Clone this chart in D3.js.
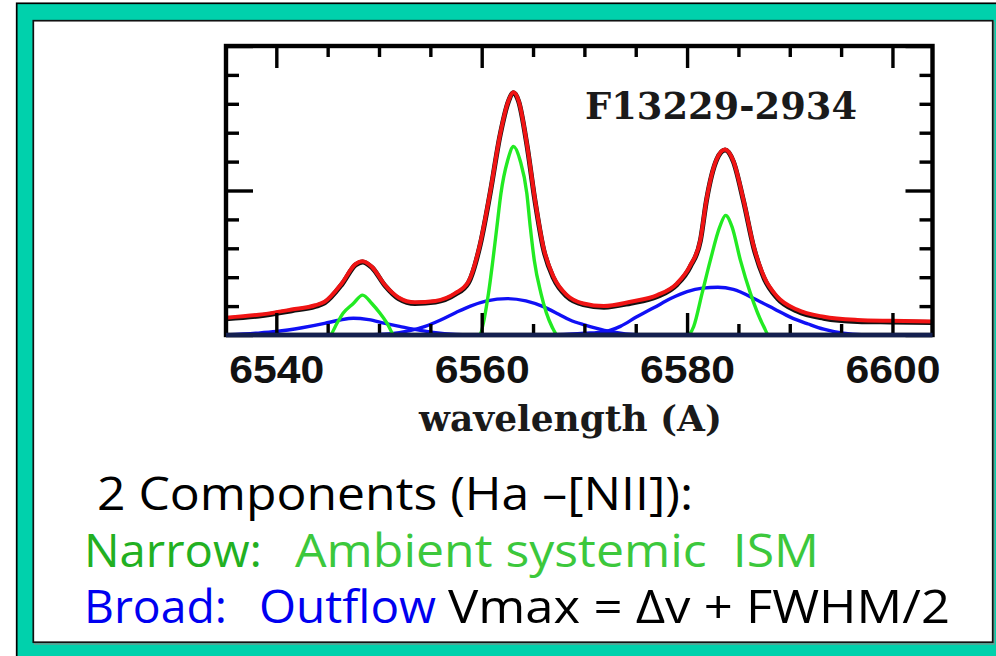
<!DOCTYPE html>
<html><head><meta charset="utf-8">
<script src="https://cdn.jsdelivr.net/npm/d3@7"></script>
<style>body{margin:0;background:#fff;}</style>
</head><body>
<svg id="chart" width="996" height="656"></svg>
<script>
// ---------- data ----------
const plotLabel = "F13229-2934";
const xAxisTitle = "wavelength (A)";
const xMajorTicks = [6540, 6560, 6580, 6600];
const xMinorTicks = [6545, 6550, 6555, 6565, 6570, 6575, 6585, 6590, 6595];
const yMajorTicks = [0, 0.5, 1];
const yMinorTicks = [0.1, 0.2, 0.3, 0.4, 0.6, 0.7, 0.8, 0.9];

// total fit (red)
const fitWave = [6535.1, 6538.3, 6541.5, 6543.8, 6544.7, 6546.4, 6547.7, 6548.4, 6549.3, 6550.6, 6551.9, 6553.5, 6555.5, 6557.4, 6558.7, 6559.85, 6560.8, 6561.8, 6562.6, 6563.1, 6563.6, 6564.4, 6565.2, 6566.0, 6567.0, 6568.3, 6569.9, 6571.9, 6574.5, 6577.1, 6579.0, 6580.3, 6581.3, 6581.9, 6582.9, 6583.7, 6584.5, 6585.5, 6586.5, 6587.5, 6588.8, 6590.7, 6593.3, 6596.6, 6599.8, 6603.9];
const fitFlux = [0.060, 0.070, 0.088, 0.103, 0.115, 0.180, 0.245, 0.255, 0.236, 0.172, 0.130, 0.113, 0.118, 0.144, 0.184, 0.316, 0.489, 0.695, 0.810, 0.840, 0.810, 0.661, 0.466, 0.305, 0.201, 0.138, 0.109, 0.100, 0.115, 0.138, 0.178, 0.240, 0.330, 0.470, 0.610, 0.642, 0.603, 0.466, 0.305, 0.201, 0.132, 0.088, 0.063, 0.052, 0.049, 0.047];
// observed spectrum (black)
const dataWave = fitWave;
const dataFlux = [0.056, 0.066, 0.084, 0.099, 0.111, 0.176, 0.242, 0.253, 0.234, 0.170, 0.126, 0.109, 0.114, 0.140, 0.180, 0.312, 0.486, 0.693, 0.808, 0.838, 0.808, 0.659, 0.462, 0.300, 0.196, 0.133, 0.105, 0.096, 0.110, 0.133, 0.174, 0.236, 0.327, 0.468, 0.608, 0.640, 0.601, 0.463, 0.301, 0.196, 0.127, 0.083, 0.058, 0.047, 0.045, 0.043];

// narrow components (green)
const narrowNII1Wave = [6535.1, 6545.2, 6545.9, 6546.5, 6547.5, 6548.4, 6549.3, 6550.1, 6550.8, 6551.5, 6603.9];
const narrowNII1Flux = [0, 0, 0.040, 0.075, 0.109, 0.138, 0.109, 0.075, 0.040, 0, 0];
const narrowHaWave = [6535.1, 6559.7, 6560.66, 6561.09, 6561.48, 6561.87, 6562.52, 6563.1, 6563.75, 6564.4, 6564.73, 6565.12, 6565.77, 6566.84, 6567.4, 6603.9];
const narrowHaFlux = [0, 0, 0.144, 0.259, 0.374, 0.489, 0.603, 0.652, 0.603, 0.489, 0.374, 0.259, 0.144, 0.029, 0, 0];
const narrowNII2Wave = [6535.1, 6580.1, 6580.64, 6581.46, 6582.27, 6583.18, 6583.75, 6584.38, 6585.19, 6586.17, 6587.47, 6587.96, 6603.9];
const narrowNII2Flux = [0, 0, 0.029, 0.144, 0.259, 0.374, 0.414, 0.374, 0.259, 0.144, 0.029, 0, 0];

// broad components (blue)
const broadNII1Wave = [6535.1, 6538.0, 6540.0, 6542.5, 6544.7, 6546.2, 6547.5, 6549.0, 6550.6, 6552.0, 6553.2, 6555.1, 6557.5, 6560.0, 6603.9];
const broadNII1Flux = [0, 0.006, 0.012, 0.025, 0.040, 0.052, 0.058, 0.053, 0.040, 0.030, 0.021, 0.010, 0.002, 0, 0];
const broadHaWave = [6535.1, 6548.0, 6551.0, 6553.0, 6554.5, 6556.0, 6557.5, 6558.9, 6560.5, 6562.5, 6564.3, 6566.0, 6567.5, 6568.6, 6570.0, 6571.2, 6572.5, 6574.0, 6576.0, 6603.9];
const broadHaFlux = [0, 0, 0.004, 0.015, 0.030, 0.052, 0.078, 0.100, 0.118, 0.126, 0.118, 0.098, 0.072, 0.052, 0.035, 0.023, 0.012, 0.004, 0, 0];
const broadNII2Wave = [6535.1, 6565.0, 6568.0, 6570.0, 6571.9, 6573.5, 6575.1, 6576.8, 6578.4, 6580.0, 6581.5, 6583.0, 6584.5, 6586.8, 6588.5, 6590.1, 6591.8, 6593.3, 6595.2, 6597.0, 6603.9];
const broadNII2Flux = [0, 0, 0.002, 0.006, 0.011, 0.030, 0.063, 0.095, 0.126, 0.150, 0.162, 0.165, 0.158, 0.121, 0.090, 0.061, 0.038, 0.020, 0.006, 0.001, 0];

// caption lines
const captionLine1 = ["2 Components (Ha \u2013[NII]):"];
const captionLine2 = ["Narrow:", "Ambient systemic  ISM"];
const captionLine3 = ["Broad:", "Outflow", "Vmax = \u0394v + FWHM/2"];

// ---------- drawing ----------
const svg = d3.select("#chart");

// slide frame
svg.append("rect").attr("x", 16.7).attr("y", 3.3).attr("width", 1000).attr("height", 700)
  .attr("fill", "#00d1ac").attr("stroke", "#000").attr("stroke-width", 1.7);
svg.append("rect").attr("x", 34.5).attr("y", 22).attr("width", 959.5).attr("height", 622)
  .attr("fill", "none").attr("stroke", "#8a8a8a").attr("stroke-width", 1.2);
svg.append("rect").attr("x", 33.3).attr("y", 20.7).attr("width", 959.4).attr("height", 621.5)
  .attr("fill", "#fff").attr("stroke", "#111").attr("stroke-width", 1.7);

const x = d3.scaleLinear().domain([6535.1, 6603.9]).range([226, 932.5]);
const y = d3.scaleLinear().domain([0, 1]).range([335, 46]);

svg.append("defs").append("clipPath").attr("id", "plotclip")
  .append("rect").attr("x", 226).attr("y", 46).attr("width", 706.5).attr("height", 289);

const line = d3.line().x(d => x(d[0])).y(d => y(d[1])).curve(d3.curveMonotoneX);
const curves = svg.append("g").attr("clip-path", "url(#plotclip)").attr("fill", "none")
  .attr("stroke-linejoin", "round").attr("stroke-linecap", "round");

const series = [
  [broadNII1Wave, broadNII1Flux, "#1010f5", 3.4],
  [broadHaWave, broadHaFlux, "#1010f5", 3.4],
  [broadNII2Wave, broadNII2Flux, "#1010f5", 3.4],
  [narrowNII1Wave, narrowNII1Flux, "#22ea22", 3.4],
  [narrowHaWave, narrowHaFlux, "#22ea22", 3.4],
  [narrowNII2Wave, narrowNII2Flux, "#22ea22", 3.4],
  [dataWave, dataFlux, "#111", 5.0],
  [fitWave, fitFlux, "#f01414", 4.0]
];
series.forEach(([w, f, c, sw]) => {
  curves.append("path").datum(d3.zip(w, f)).attr("d", line)
    .attr("stroke", c).attr("stroke-width", sw);
});

// axes with inward ticks
function styleAxis(g) {
  g.select(".domain").remove();
  g.selectAll(".tick line").attr("stroke", "#000").attr("stroke-width", 3.4);
}
svg.append("g").attr("transform", "translate(0,335)")
  .call(d3.axisBottom(x).tickValues(xMinorTicks).tickSize(-11).tickFormat("")).call(styleAxis);
const bottomMajor = svg.append("g").attr("transform", "translate(0,335)")
  .call(d3.axisBottom(x).tickValues(xMajorTicks).tickSize(-22).tickPadding(20).tickFormat(d3.format("d")))
  .call(styleAxis);
bottomMajor.selectAll("text")
  .attr("font-family", "'Liberation Sans', Arial, sans-serif")
  .attr("font-weight", "bold").attr("font-size", 39).attr("fill", "#111")
  .attr("textLength", 95).attr("lengthAdjust", "spacingAndGlyphs");

svg.append("g").attr("transform", "translate(0,46)")
  .call(d3.axisTop(x).tickValues(xMinorTicks).tickSize(-11).tickFormat("")).call(styleAxis);
svg.append("g").attr("transform", "translate(0,46)")
  .call(d3.axisTop(x).tickValues(xMajorTicks).tickSize(-22).tickFormat("")).call(styleAxis);

svg.append("g").attr("transform", "translate(226,0)")
  .call(d3.axisLeft(y).tickValues(yMinorTicks).tickSize(-13).tickFormat("")).call(styleAxis);
svg.append("g").attr("transform", "translate(226,0)")
  .call(d3.axisLeft(y).tickValues(yMajorTicks).tickSize(-27).tickFormat("")).call(styleAxis);
svg.append("g").attr("transform", "translate(932.5,0)")
  .call(d3.axisRight(y).tickValues(yMinorTicks).tickSize(-13).tickFormat("")).call(styleAxis);
svg.append("g").attr("transform", "translate(932.5,0)")
  .call(d3.axisRight(y).tickValues(yMajorTicks).tickSize(-27).tickFormat("")).call(styleAxis);

// plot frame
svg.append("rect").attr("x", x.range()[0]).attr("y", y.range()[1])
  .attr("width", x.range()[1] - x.range()[0]).attr("height", y.range()[0] - y.range()[1])
  .attr("fill", "none").attr("stroke", "#000").attr("stroke-width", 4.4);
svg.append("line").attr("x1", x.range()[0]).attr("x2", x.range()[1])
  .attr("y1", y(0)).attr("y2", y(0)).attr("stroke", "#14204f").attr("stroke-width", 4.4);

// plot label and axis title
svg.append("text").attr("x", 585).attr("y", 118.5).text(plotLabel)
  .attr("font-family", "'DejaVu Serif', serif").attr("font-weight", "bold")
  .attr("font-size", 38).attr("fill", "#1a1a1a")
  .attr("textLength", 272).attr("lengthAdjust", "spacingAndGlyphs");
svg.append("text").attr("x", 419).attr("y", 431).text(xAxisTitle)
  .attr("font-family", "'DejaVu Serif', serif").attr("font-weight", "bold")
  .attr("font-size", 35).attr("fill", "#1a1a1a")
  .attr("textLength", 303).attr("lengthAdjust", "spacingAndGlyphs");

// caption
const capFont = "'Open Sans', 'DejaVu Sans', sans-serif";
const capLayout = [
  [captionLine1, 510, [[97, 596, "#000"]]],
  [captionLine2, 567, [[84, 178, "#22b022"], [295, 524, "#3cc83c"]]],
  [captionLine3, 623, [[84, 143, "#0000f0"], [259, 177, "#0000f0"], [448, 502, "#000"]]]
];
capLayout.forEach(([texts, base, lay]) => {
  texts.forEach((t, i) => {
    svg.append("text").attr("x", lay[i][0]).attr("y", base).text(t)
      .attr("font-family", capFont).attr("font-size", 46).attr("fill", lay[i][2])
      .attr("textLength", lay[i][1]).attr("lengthAdjust", "spacingAndGlyphs")
      .style("white-space", "pre");
  });
});
</script>
</body></html>
